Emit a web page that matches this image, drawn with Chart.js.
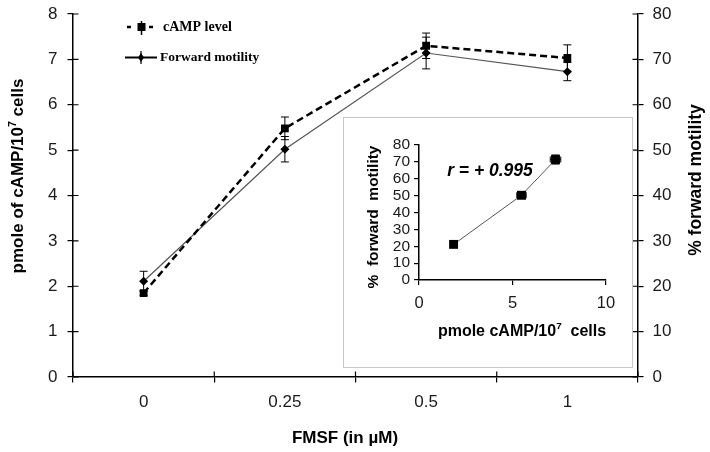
<!DOCTYPE html>
<html>
<head>
<meta charset="utf-8">
<script src="https://cdn.jsdelivr.net/npm/chart.js@4"></script>
<style>
  html, body { margin:0; padding:0; background:#fff; }
  #wrap { position:relative; width:710px; height:452px; }
  #main { position:absolute; left:0; top:0; }
  #insetBox { position:absolute; left:343px; top:117px; width:288px; height:249px; border:1px solid #c8c8c8; background:#fff; }
  #inset { position:absolute; left:0; top:0; }
</style>
</head>
<body>
<div id="wrap">
  <canvas id="main" width="710" height="452"></canvas>
  <div id="insetBox"><canvas id="inset" width="288" height="249"></canvas></div>
</div>
<script>
// ---- data ----
const categories = ['0', '0.25', '0.5', '1'];
const campLevel = [1.85, 5.48, 7.30, 7.03];
const campErr = [0.05, 0.25, 0.28, 0.29];
const motility = [21.1, 50.2, 71.4, 67.3];
const motilityErr = [2.2, 2.8, 3.5, 2.0];
const leftTicks = [0, 1, 2, 3, 4, 5, 6, 7, 8];
const rightTicks = [0, 10, 20, 30, 40, 50, 60, 70, 80];
const insetCamp = [1.85, 5.48, 7.30];
const insetMotility = [21.1, 50.2, 71.4];
const insetCampErr = [0.05, 0.25, 0.28];
const insetMotilityErr = [1.0, 1.5, 2.7];
const insetXTicks = [0, 5, 10];
const insetYTicks = [0, 10, 20, 30, 40, 50, 60, 70, 80];
const corrText = 'r = + 0.995';

const SANS = '"Liberation Sans", Arial, sans-serif';
const SERIF = '"Liberation Serif", "Times New Roman", serif';
const TXT = '#1a1a1a';

function errorBars(chart) {
  const ctx = chart.ctx;
  ctx.save();
  ctx.strokeStyle = '#000';
  ctx.lineWidth = 1;
  chart.data.datasets.forEach((ds, di) => {
    const meta = chart.getDatasetMeta(di);
    const ys = chart.scales[ds.yAxisID || 'y'];
    const xs = chart.scales[ds.xAxisID || 'x'];
    meta.data.forEach((pt, i) => {
      const raw = ds.data[i];
      const yv = typeof raw === 'object' ? raw.y : raw;
      if (ds.errY) {
        const e = ds.errY[i];
        const y1 = ys.getPixelForValue(yv + e), y2 = ys.getPixelForValue(yv - e);
        ctx.beginPath();
        ctx.moveTo(pt.x, y1); ctx.lineTo(pt.x, y2);
        ctx.moveTo(pt.x - 4, y1); ctx.lineTo(pt.x + 4, y1);
        ctx.moveTo(pt.x - 4, y2); ctx.lineTo(pt.x + 4, y2);
        ctx.stroke();
      }
      if (ds.errX) {
        const e = ds.errX[i];
        const x1 = xs.getPixelForValue(raw.x - e), x2 = xs.getPixelForValue(raw.x + e);
        ctx.beginPath();
        ctx.moveTo(x1, pt.y); ctx.lineTo(x2, pt.y);
        ctx.moveTo(x1, pt.y - 3); ctx.lineTo(x1, pt.y + 3);
        ctx.moveTo(x2, pt.y - 3); ctx.lineTo(x2, pt.y + 3);
        ctx.stroke();
      }
    });
  });
  ctx.restore();
}

// draw text with a superscript part: parts = [[text, isSup], ...]
function richText(ctx, parts, x, y, size, rotate, style) {
  ctx.save();
  ctx.translate(x, y);
  if (rotate) ctx.rotate(-Math.PI / 2);
  ctx.textBaseline = 'alphabetic';
  ctx.textAlign = 'left';
  const fontFor = sup => (style || 'bold') + ' ' + (sup ? size * 0.62 : size) + 'px ' + SANS;
  let total = 0;
  const widths = parts.map(([t, sup]) => { ctx.font = fontFor(sup); const w = ctx.measureText(t).width; total += w; return w; });
  let cx = -total / 2;
  const base = size * 0.36;
  parts.forEach(([t, sup], i) => {
    ctx.font = fontFor(sup);
    ctx.fillText(t, cx, sup ? base - size * 0.42 : base);
    cx += widths[i];
  });
  ctx.restore();
}

const mainDecor = {
  id: 'mainDecor',
  beforeDatasetsDraw(chart) { errorBars(chart); },
  afterDraw(chart) {
    const ctx = chart.ctx;
    const a = chart.chartArea;
    const y = chart.scales.y, y1 = chart.scales.y1;
    ctx.save();
    ctx.strokeStyle = '#000';
    ctx.lineWidth = 1.2;
    ctx.beginPath();
    y.ticks.forEach(t => { const p = y.getPixelForValue(t.value); ctx.moveTo(a.left, p); ctx.lineTo(a.left + 5.5, p); });
    y1.ticks.forEach(t => { const p = y1.getPixelForValue(t.value); ctx.moveTo(a.right, p); ctx.lineTo(a.right - 5.5, p); });
    const n = categories.length;
    for (let i = 0; i <= n; i++) {
      const p = a.left + i * (a.right - a.left) / n;
      ctx.moveTo(p, a.bottom); ctx.lineTo(p, a.bottom - 5.5);
    }
    ctx.stroke();

    // axis titles
    ctx.fillStyle = '#000';
    richText(ctx, [['pmole of cAMP/10', false], ['7', true], [' cells', false]], 17, 176, 17, true);
    richText(ctx, [['% forward motility', false]], 695, 180, 17.5, true);
    richText(ctx, [['FMSF (in \u00b5M)', false]], 345, 437, 17, false);

    // legend
    const ds = chart.data.datasets;
    ctx.lineWidth = 2.5;
    ctx.setLineDash([4, 7]);
    ctx.beginPath(); ctx.moveTo(127, 27); ctx.lineTo(155, 27); ctx.stroke();
    ctx.setLineDash([]);
    ctx.lineWidth = 1.5;
    ctx.beginPath(); ctx.moveTo(141.5, 21); ctx.lineTo(141.5, 35); ctx.stroke();
    ctx.fillRect(137.5, 23, 8, 8);
    ctx.lineWidth = 2;
    ctx.beginPath(); ctx.moveTo(125, 57.5); ctx.lineTo(157, 57.5); ctx.stroke();
    ctx.lineWidth = 1.2;
    ctx.beginPath(); ctx.moveTo(141, 51); ctx.lineTo(141, 64); ctx.stroke();
    ctx.beginPath(); ctx.moveTo(141, 53); ctx.lineTo(144, 57.5); ctx.lineTo(141, 62); ctx.lineTo(138, 57.5); ctx.closePath(); ctx.fill();
    ctx.font = 'bold 14px ' + SERIF;
    ctx.textAlign = 'left';
    ctx.textBaseline = 'middle';
    ctx.fillText(ds[0].label, 163, 27);
    ctx.font = 'bold 13.5px ' + SERIF;
    ctx.fillText(ds[1].label, 160, 57.5);
    ctx.restore();
  }
};

const tickFont = { family: SANS, size: 17 };

new Chart(document.getElementById('main'), {
  type: 'line',
  data: {
    labels: categories,
    datasets: [
      { label: 'cAMP level', data: campLevel, yAxisID: 'y', borderColor: '#000', backgroundColor: '#000',
        borderWidth: 2.5, borderDash: [7, 4], pointStyle: 'rect', pointRadius: 5.5, pointBorderWidth: 0,
        tension: 0, errY: campErr },
      { label: 'Forward motility', data: motility, yAxisID: 'y1', borderColor: '#555', backgroundColor: '#000',
        pointBorderColor: '#000', borderWidth: 1.2, pointStyle: 'rectRot', pointRadius: 4.5, pointBorderWidth: 0,
        tension: 0, errY: motilityErr }
    ]
  },
  options: {
    responsive: false,
    animation: false,
    events: [],
    layout: { padding: { top: 14, left: 0, right: 0, bottom: 0 } },
    plugins: { legend: { display: false }, tooltip: { enabled: false } },
    scales: {
      x: {
        type: 'category', offset: true,
        grid: { offset: true, drawOnChartArea: false, drawTicks: true, tickLength: 5.5, color: '#000', lineWidth: 1.2 },
        border: { color: '#000', width: 1.5 },
        ticks: { font: tickFont, color: TXT, padding: 10, maxRotation: 0 },
        afterFit(s) { s.height = 75; s.paddingLeft = 0; s.paddingRight = 0; }
      },
      y: {
        position: 'left', min: 0, max: 8,
        afterBuildTicks(s) { s.ticks = leftTicks.map(v => ({ value: v })); },
        grid: { drawOnChartArea: false, drawTicks: true, tickLength: 5.5, color: '#000', lineWidth: 1.2 },
        border: { color: '#000', width: 1.5 },
        ticks: { font: tickFont, color: TXT, padding: 10 },
        afterFit(s) { s.width = 73; s.paddingTop = 0; s.paddingBottom = 0; }
      },
      y1: {
        position: 'right', min: 0, max: 80,
        afterBuildTicks(s) { s.ticks = rightTicks.map(v => ({ value: v })); },
        grid: { drawOnChartArea: false, drawTicks: true, tickLength: 5.5, color: '#000', lineWidth: 1.2 },
        border: { color: '#000', width: 1.5 },
        ticks: { font: tickFont, color: TXT, padding: 9 },
        afterFit(s) { s.width = 72; s.paddingTop = 0; s.paddingBottom = 0; }
      }
    }
  },
  plugins: [mainDecor]
});

const insetDecor = {
  id: 'insetDecor',
  beforeDatasetsDraw(chart) { errorBars(chart); },
  afterDraw(chart) {
    const ctx = chart.ctx;
    ctx.save();
    ctx.fillStyle = '#000';
    richText(ctx, [['%  forward  motility', false]], 28, 99, 15.5, true);
    richText(ctx, [['pmole cAMP/10', false], ['7', true], ['  cells', false]], 178, 212, 16, false);
    richText(ctx, [[corrText, false]], 146, 52, 17.5, false, 'italic bold');
    ctx.restore();
  }
};

new Chart(document.getElementById('inset'), {
  type: 'scatter',
  data: {
    datasets: [{
      data: insetCamp.map((v, i) => ({ x: v, y: insetMotility[i] })),
      showLine: true, borderColor: '#555', borderWidth: 1, backgroundColor: '#000',
      pointStyle: 'rect', pointRadius: 6.3, pointBorderWidth: 0,
      errX: insetCampErr, errY: insetMotilityErr
    }]
  },
  options: {
    responsive: false,
    animation: false,
    events: [],
    layout: { padding: { top: 27, left: 0, right: 26, bottom: 0 } },
    plugins: { legend: { display: false }, tooltip: { enabled: false } },
    scales: {
      x: {
        type: 'linear', min: 0, max: 10,
        afterBuildTicks(s) { s.ticks = insetXTicks.map(v => ({ value: v })); },
        grid: { drawOnChartArea: false, drawTicks: true, tickLength: 5, color: '#000', lineWidth: 1.2 },
        border: { color: '#000', width: 1.5 },
        ticks: { font: { family: SANS, size: 16.5 }, color: TXT, padding: 9, maxRotation: 0 },
        afterFit(s) { s.height = 87; s.paddingLeft = 0; s.paddingRight = 0; }
      },
      y: {
        type: 'linear', min: 0, max: 80,
        afterBuildTicks(s) { s.ticks = insetYTicks.map(v => ({ value: v })); },
        grid: { drawOnChartArea: false, drawTicks: true, tickLength: 5, color: '#000', lineWidth: 1.2 },
        border: { color: '#000', width: 1.5 },
        ticks: { font: { family: SANS, size: 15.5 }, color: TXT, padding: 4, autoSkip: false },
        afterFit(s) { s.width = 75; s.paddingTop = 0; s.paddingBottom = 0; }
      }
    }
  },
  plugins: [insetDecor]
});
</script>
</body>
</html>
